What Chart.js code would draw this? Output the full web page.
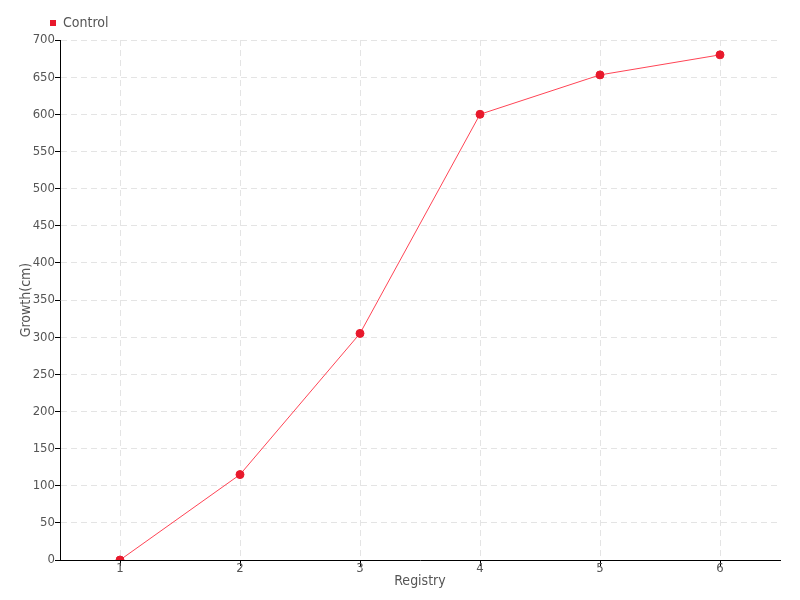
<!DOCTYPE html>
<html>
<head>
<meta charset="utf-8">
<script src="https://cdn.jsdelivr.net/npm/chart.js@4/dist/chart.umd.min.js"></script>
<style>
  html, body { margin: 0; padding: 0; background: #fff; }
  #wrap { width: 800px; height: 600px; position: relative; }
</style>
</head>
<body>
<div id="wrap"><canvas id="chart"></canvas></div>
<script>
// data
const registry = ["1", "2", "3", "4", "5", "6"];
const controlGrowth = [0, 115, 305, 600, 653, 680];

const FONT = "'DejaVu Sans Condensed', 'Liberation Sans Narrow', sans-serif";
const TEXT = "#555";
const RED = "#e8192c";

Chart.defaults.font.family = FONT;
Chart.defaults.color = TEXT;

// nudge the legend right so it sits over the y axis like the reference
const legendShift = {
  id: "legendShift",
  beforeDraw(chart) {
    const lg = chart.legend;
    if (lg && !lg._shifted) {
      lg.left += 26;
      lg.right += 26;
      lg._shifted = true;
    }
  },
};

new Chart(document.getElementById("chart"), {
  type: "line",
  data: {
    labels: registry,
    datasets: [
      {
        label: "Control",
        data: controlGrowth,
        borderColor: "#ff4455",
        backgroundColor: RED,
        borderWidth: 1,
        pointRadius: 4,
        pointHoverRadius: 4,
        pointBackgroundColor: RED,
        pointBorderColor: RED,
        pointBorderWidth: 1,
        tension: 0,
        fill: false,
      },
    ],
  },
  options: {
    responsive: true,
    maintainAspectRatio: false,
    animation: false,
    layout: { padding: { top: 10, right: 20, left: 18, bottom: 10 } },
    scales: {
      x: {
        type: "category",
        offset: true,
        grid: {
          offset: false,
          color: "#e4e4e4",
          tickColor: "#000",
          tickLength: 6,
          tickBorderDash: [],
        },
        border: { color: "#000", width: 1, dash: [6, 4] },
        ticks: { font: { size: 13 }, color: TEXT, padding: -5 },
        title: { display: true, text: "Registry", font: { size: 14 }, color: TEXT, padding: 0 },
        afterFit: (scale) => { scale.height = 30; },
      },
      y: {
        min: 0,
        max: 700,
        grid: {
          color: "#e4e4e4",
          tickColor: "#000",
          tickLength: 5,
          tickBorderDash: [],
        },
        border: { color: "#000", width: 1, dash: [6, 4] },
        ticks: { stepSize: 50, font: { size: 13 }, color: TEXT, padding: 0 },
        title: { display: true, text: "Growth(cm)", font: { size: 14 }, color: TEXT, padding: 0 },
        afterFit: (scale) => { scale.width = 42; },
      },
    },
    plugins: {
      legend: {
        display: true,
        position: "top",
        align: "start",
        labels: {
          boxWidth: 6,
          boxHeight: 6,
          padding: 6,
          font: { size: 14 },
          color: TEXT,
          generateLabels: () => [{
            text: "Control",
            fillStyle: RED,
            strokeStyle: RED,
            fontColor: TEXT,
            lineWidth: 0,
            datasetIndex: 0,
          }],
        },
      },
      tooltip: { enabled: false },
    },
  },
  plugins: [legendShift],
});
</script>
</body>
</html>
